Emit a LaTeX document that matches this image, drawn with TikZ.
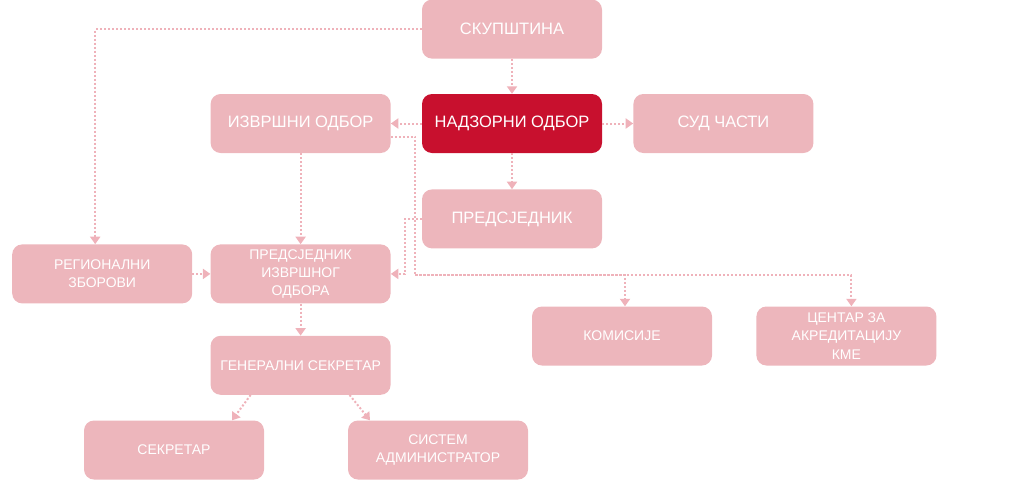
\documentclass[tikz,border=0pt]{standalone}
\usepackage{fontspec}
\setmainfont{Liberation Sans}
\usetikzlibrary{positioning,arrows.meta}
\definecolor{boxpink}{HTML}{EDB6BC}
\definecolor{boxred}{HTML}{C8102E}
\definecolor{linepink}{HTML}{EFB2BA}

\begin{document}
\begin{tikzpicture}[x=1pt,y=1pt,node distance=31pt and 31pt,
    every node/.style={rectangle,rounded corners=10pt,fill=boxpink,text=white,minimum width=180pt,minimum height=59pt,align=center,inner sep=2pt},
    big/.style={font=\fontsize{16.5}{19}\selectfont},
    small/.style={font=\fontsize{14}{18.3}\selectfont},
    flow/.style={draw=linepink,line width=2pt,dash pattern=on 2pt off 2pt,-{Triangle[width=10pt,length=7.5pt,fill=linepink]}}]
        \useasboundingbox (0,0) rectangle (1024,-480);
        \node[big,fill=boxred] (nadz) at (512,-123.5) {НАДЗОРНИ ОДБОР};
        \node[big,above=35pt of nadz] (skup) {СКУПШТИНА};
        \node[big,left=31pt of nadz] (izvr) {ИЗВРШНИ ОДБОР};
        \node[big,right=31pt of nadz] (sud) {СУД ЧАСТИ};
        \node[big,below=36pt of nadz] (pred) {ПРЕДСЈЕДНИК};
        \node[small,below=91pt of izvr] (pio) {ПРЕДСЈЕДНИК\\ИЗВРШНОГ\\ОДБОРА};
        \node[small,left=18pt of pio] (regio) {РЕГИОНАЛНИ\\ЗБОРОВИ};
        \node[small,below=32pt of pio] (gen) {ГЕНЕРАЛНИ СЕКРЕТАР};
        \node[small] (sekr) at (174,-450) {СЕКРЕТАР};
        \node[small] (sist) at (438,-450) {СИСТЕМ\\АДМИНИСТРАТОР};
        \node[small] (kom) at (622,-336) {КОМИСИЈЕ};
        \node[small,right=44pt of kom] (cent) {ЦЕНТАР ЗА\\АКРЕДИТАЦИЈУ\\КМЕ};
        \coordinate (bus) at (415,-275);
        \draw[flow] (skup) -- (nadz);
        \draw[flow] (nadz) -- (izvr);
        \draw[flow] (nadz) -- (sud);
        \draw[flow] (nadz) -- (pred);
        \draw[flow] (skup.west) -| ([xshift=-7pt]regio.north);
        \draw[flow] (izvr) -- (pio);
        \draw[flow] (regio) -- (pio);
        \draw[flow] (pio) -- (gen);
        \draw[flow] (pred.west) -- ++(-17,0) |- (pio.east);
        \draw[flow] ([yshift=-13pt]izvr.east) -| (bus) -| ([xshift=3pt]kom.north);
        \draw[flow] (bus) -| ([xshift=5pt]cent.north);
        \draw[flow] ([xshift=-50pt]gen.south) -- ([xshift=58pt]sekr.north);
        \draw[flow] ([xshift=49pt]gen.south) -- ([xshift=-68pt]sist.north);
    \end{tikzpicture}
\end{document}
